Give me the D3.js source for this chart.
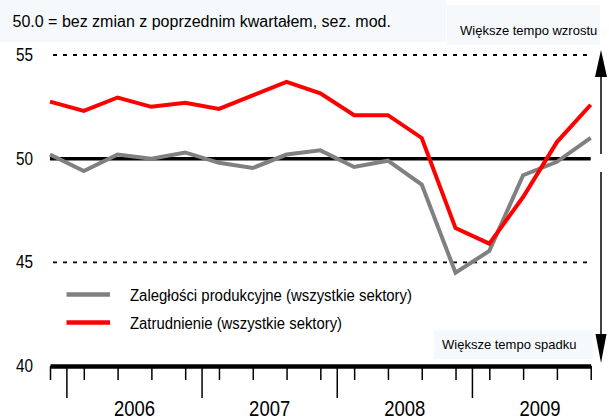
<!DOCTYPE html>
<html><head><meta charset="utf-8">
<script src="https://cdn.jsdelivr.net/npm/d3@7"></script>
<style>
html,body{margin:0;padding:0;background:#fff;}
svg{display:block;font-family:Arial,"Liberation Sans",sans-serif;}
</style></head>
<body>
<svg id="chart" width="609" height="420"></svg>
<script>
const quarters = ["IV 2005","I 2006","II 2006","III 2006","IV 2006","I 2007","II 2007","III 2007","IV 2007","I 2008","II 2008","III 2008","IV 2008","I 2009","II 2009","III 2009","IV 2009"];
const years = ["2006","2007","2008","2009"];
const zaleglosci = [50.2,49.4,50.2,50.0,50.3,49.8,49.55,50.2,50.4,49.6,49.9,48.75,44.5,45.55,49.2,49.85,51.0];
const zatrudnienie = [52.75,52.3,52.95,52.5,52.7,52.4,53.05,53.7,53.15,52.1,52.1,51.0,46.65,45.9,48.15,50.8,52.6];
const yTicks = [40,45,50,55];
const seriesNames = ["Zaległości produkcyjne (wszystkie sektory)","Zatrudnienie (wszystkie sektory)"];
const seriesColors = ["#808080","#ff0000"];

const svg = d3.select("#chart");
const x = d3.scalePoint().domain(quarters).range([50,590.7]);
const y = d3.scaleLinear().domain([40,55]).range([366,55]);
const step = x.step();

// title with faint background
svg.append("rect").attr("x",0).attr("y",0).attr("width",446).attr("height",42).attr("fill","#f5f9fc");
svg.append("text").attr("x",12.5).attr("y",26.5).attr("font-size",16).attr("fill","#000")
  .text("50.0 = bez zmian z poprzednim kwartałem, sez. mod.");

// upper-right label
svg.append("rect").attr("x",447).attr("y",5).attr("width",153).attr("height",40).attr("fill","#f5f9fc");
svg.append("text").attr("x",460).attr("y",35).attr("font-size",13).attr("fill","#000").text("Większe tempo wzrostu");

// lower-right label
svg.append("rect").attr("x",434).attr("y",330).attr("width",159).attr("height",29).attr("fill","#f5f9fc");
svg.append("text").attr("x",442).attr("y",349).attr("font-size",13).attr("fill","#000").text("Większe tempo spadku");

// dotted gridlines at 55 and 45
[55,45].forEach(v=>{
  svg.append("line").attr("x1",53).attr("x2",590.7).attr("y1",y(v)).attr("y2",y(v))
    .attr("stroke","#000").attr("stroke-width",1.8).attr("stroke-dasharray","4,6");
});
// solid 50 line
svg.append("line").attr("x1",50).attr("x2",590.7).attr("y1",y(50)).attr("y2",y(50))
  .attr("stroke","#000").attr("stroke-width",3.5);

// y labels
svg.selectAll("text.ylab").data(yTicks).join("text").attr("class","ylab")
  .attr("transform",d=>`translate(33,${y(d)+6}) scale(0.85,1)`)
  .attr("text-anchor","end").attr("font-size",18).text(d=>d);

// x axis (quarter ticks)
const xAxis = d3.axisBottom(x).tickSize(14).tickSizeOuter(0).tickFormat("");
const gx = svg.append("g").attr("transform",`translate(0,${y(40)})`).call(xAxis);
gx.select(".domain").attr("stroke","#000").attr("stroke-width",4.5);
gx.selectAll(".tick line").attr("stroke","#000").attr("stroke-width",1.5);

// year separators (long ticks) and year labels
const yearSeps = [0,4,8,12].map(i => x(quarters[i]) + step/2);
svg.selectAll("line.ysep").data(yearSeps).join("line").attr("class","ysep")
  .attr("x1",d=>d).attr("x2",d=>d).attr("y1",y(40)).attr("y2",398)
  .attr("stroke","#000").attr("stroke-width",1.5);
svg.selectAll("text.year").data(years).join("text").attr("class","year")
  .attr("transform",(d,i)=>`translate(${x(quarters[1+4*i]) + 1.5*step},416) scale(0.84,1)`)
  .attr("text-anchor","middle").attr("font-size",22).text(d=>d);

// arrows on the right
const defs = svg.append("defs");
svg.append("line").attr("x1",601).attr("x2",601).attr("y1",154).attr("y2",75).attr("stroke","#000").attr("stroke-width",1.5);
svg.append("path").attr("d","M601,50 L595,77 L607,77 Z").attr("fill","#000");
svg.append("line").attr("x1",601).attr("x2",601).attr("y1",172).attr("y2",336).attr("stroke","#000").attr("stroke-width",1.5);
svg.append("path").attr("d","M601,363 L595.5,334 L606.5,334 Z").attr("fill","#000");

// series lines
const line = d3.line().x((d,i)=>x(quarters[i])).y(d=>y(d));
[zaleglosci, zatrudnienie].forEach((s,k)=>{
  svg.append("path").datum(s).attr("d",line).attr("fill","none")
    .attr("stroke",seriesColors[k]).attr("stroke-width",4).attr("stroke-linejoin","miter");
});

// legend
const legY = [294.5, 322.5];
const legW = [282, 212];
seriesNames.forEach((n,k)=>{
  svg.append("line").attr("x1",66.5).attr("x2",110).attr("y1",legY[k]).attr("y2",legY[k])
    .attr("stroke",seriesColors[k]).attr("stroke-width",4.5);
  svg.append("text").attr("x",130).attr("y",legY[k]+6).attr("font-size",16)
    .attr("textLength",legW[k]).attr("lengthAdjust","spacingAndGlyphs").text(n);
});
</script>
</body></html>
